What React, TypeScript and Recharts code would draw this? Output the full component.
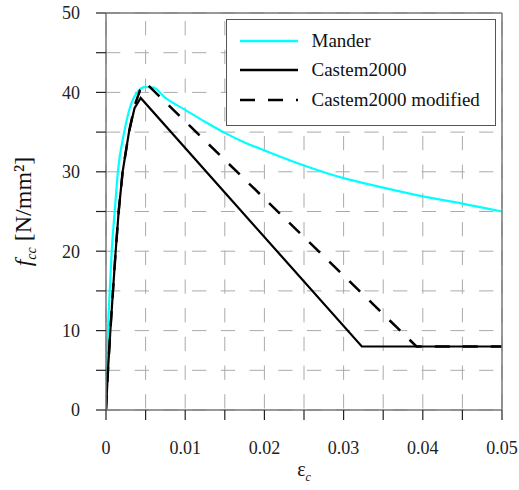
import React from 'react';
import { LineChart, Line, XAxis, YAxis, CartesianGrid, Legend } from 'recharts';

const FONT = "'Liberation Serif', 'Times New Roman', serif";

// Mander confined-concrete curve
const manderStrain = [0, 0.0001, 0.00025, 0.00047, 0.00072, 0.0011, 0.0015, 0.0023, 0.003, 0.004, 0.005, 0.006, 0.0075, 0.01, 0.0125, 0.015, 0.0175, 0.02, 0.025, 0.03, 0.035, 0.04, 0.045, 0.05];
const manderStress = [0, 5, 10, 15, 20, 25, 30, 35, 38, 40.1, 40.7, 40.6, 39.3, 37.8, 36.3, 34.9, 33.7, 32.7, 30.8, 29.2, 28.0, 26.9, 26.0, 25.0];

// Castem2000
const castemStrain = [0, 0.00025, 0.00055, 0.00088, 0.00122, 0.0016, 0.0021, 0.0029, 0.0036, 0.00438, 0.0323, 0.05];
const castemStress = [0, 5, 10, 15, 20, 25, 30, 35, 38, 39.3, 8, 8];

// Castem2000 modified
const modStrain = [0, 0.00025, 0.00055, 0.00088, 0.00122, 0.0016, 0.0021, 0.0029, 0.0036, 0.0043, 0.005, 0.0392, 0.05];
const modStress = [0, 5, 10, 15, 20, 25, 30, 35, 38.3, 40.3, 41.2, 8, 8];

const xTicks = [0, 0.005, 0.01, 0.015, 0.02, 0.025, 0.03, 0.035, 0.04, 0.045, 0.05];
const xTickLabels = ['0', '', '0.01', '', '0.02', '', '0.03', '', '0.04', '', '0.05'];
const yTicks = [0, 5, 10, 15, 20, 25, 30, 35, 40, 45, 50];
const yTickLabels = ['0', '', '10', '', '20', '', '30', '', '40', '', '50'];

const legendItems = [
  { name: 'Mander', color: '#00ffff', dash: undefined },
  { name: 'Castem2000', color: '#000', dash: undefined },
  { name: 'Castem2000 modified', color: '#000', dash: '15 13' },
];

const toPoints = (xs: number[], ys: number[]) => xs.map((x, i) => ({ x, y: ys[i] }));

const manderData = toPoints(manderStrain, manderStress);
const castemData = toPoints(castemStrain, castemStress);
const modData = toPoints(modStrain, modStress);

const renderLegend = () => (
  <div
    style={{
      width: 270,
      height: 107,
      boxSizing: 'border-box',
      border: '1.5px solid #555',
      background: '#fff',
      position: 'relative',
      fontFamily: FONT,
      fontSize: 19,
      color: '#111',
    }}
  >
    {legendItems.map((it, i) => (
      <div
        key={it.name}
        style={{ position: 'absolute', left: 12.5, top: 9.5 + i * 29.6, height: 22, display: 'flex', alignItems: 'center' }}
      >
        <svg width={58} height={6} style={{ display: 'block' }}>
          <line x1={0} y1={3} x2={58} y2={3} stroke={it.color} strokeWidth={2.5} strokeDasharray={it.dash} />
        </svg>
        <span style={{ marginLeft: 14, lineHeight: '22px', whiteSpace: 'nowrap' }}>{it.name}</span>
      </div>
    ))}
  </div>
);

const XTick = (props: any) => {
  const { x, y, index } = props;
  const label = xTickLabels[index];
  if (!label) return null;
  return (
    <text x={x} y={y} dy="0.71em" textAnchor="middle" fill="#222" fontSize={18} style={{ fontFamily: FONT }}>
      {label}
    </text>
  );
};

const YTick = (props: any) => {
  const { x, y, index } = props;
  const label = yTickLabels[index];
  if (!label) return null;
  return (
    <text x={x} y={y} dy="0.355em" textAnchor="end" fill="#222" fontSize={18} style={{ fontFamily: FONT }}>
      {label}
    </text>
  );
};

const renderXTitle = (props: any) => {
  const vb = props.viewBox;
  return (
    <text x={vb.x + vb.width / 2} y={vb.y + 66} textAnchor="middle" style={{ fontFamily: FONT }} fontSize={20} fill="#111">
      <tspan>ε</tspan>
      <tspan fontSize={12} fontStyle="italic" dy={5}>c</tspan>
    </text>
  );
};

const renderYTitle = (props: any) => {
  const vb = props.viewBox;
  const cx = 31;
  const cy = vb.y + vb.height / 2;
  return (
    <text x={cx} y={cy} transform={`rotate(-90, ${cx}, ${cy})`} textAnchor="middle" style={{ fontFamily: FONT }} fontSize={24} fill="#111">
      <tspan fontStyle="italic">f</tspan>
      <tspan fontStyle="italic" fontSize={14} dy={5}>cc</tspan>
      <tspan dy={-5}> [N/mm²]</tspan>
    </text>
  );
};

export default function App() {
  const axisLine = { stroke: '#777', strokeWidth: 1.5 };
  const tickLine = { stroke: '#222', strokeWidth: 1.2 };
  return (
    <div style={{ fontFamily: FONT }}>
      <style>{`html, body { margin: 0; padding: 0; overflow: hidden; } .recharts-surface { overflow: visible; }`}</style>
      <LineChart width={519} height={490} margin={{ top: 13, right: 17, left: 0, bottom: 0 }}>
        <CartesianGrid vertical={false} stroke="#aaa" strokeDasharray="14.3 14.4" />
        <CartesianGrid horizontal={false} stroke="#aaa" strokeDasharray="14.3 14.4" strokeDashoffset={20.6} />
        <XAxis
          dataKey="x"
          type="number"
          domain={[0, 0.05]}
          ticks={xTicks}
          interval={0}
          allowDataOverflow
          height={80}
          tickSize={10}
          tickMargin={21}
          axisLine={axisLine}
          tickLine={tickLine}
          tick={<XTick />}
          label={{ content: renderXTitle }}
        />
        <XAxis
          xAxisId="top"
          orientation="top"
          mirror
          type="number"
          dataKey="x"
          domain={[0, 0.05]}
          ticks={xTicks}
          interval={0}
          allowDataOverflow
          tickSize={10}
          axisLine={axisLine}
          tickLine={tickLine}
          tick={false}
        />
        <YAxis
          type="number"
          domain={[0, 50]}
          ticks={yTicks}
          interval={0}
          allowDataOverflow
          width={106}
          tickSize={10}
          tickMargin={16}
          axisLine={axisLine}
          tickLine={tickLine}
          tick={<YTick />}
          label={{ content: renderYTitle }}
        />
        <YAxis
          yAxisId="right"
          orientation="right"
          mirror
          type="number"
          domain={[0, 50]}
          ticks={yTicks}
          interval={0}
          allowDataOverflow
          tickSize={9}
          axisLine={axisLine}
          tickLine={tickLine}
          tick={false}
        />
        <Legend
          layout="vertical"
          verticalAlign="middle"
          align="center"
          content={renderLegend}
          wrapperStyle={{ top: 19, left: 226, width: 270, height: 107 }}
        />
        <Line data={manderData} dataKey="y" type="monotone" stroke="#00ffff" strokeWidth={2.2} dot={false} isAnimationActive={false} />
        <Line data={castemData} dataKey="y" type="linear" stroke="#000" strokeWidth={2.2} dot={false} isAnimationActive={false} />
        <Line data={modData} dataKey="y" type="linear" stroke="#000" strokeWidth={2.5} strokeDasharray="15 13" dot={false} isAnimationActive={false} />
      </LineChart>
    </div>
  );
}
